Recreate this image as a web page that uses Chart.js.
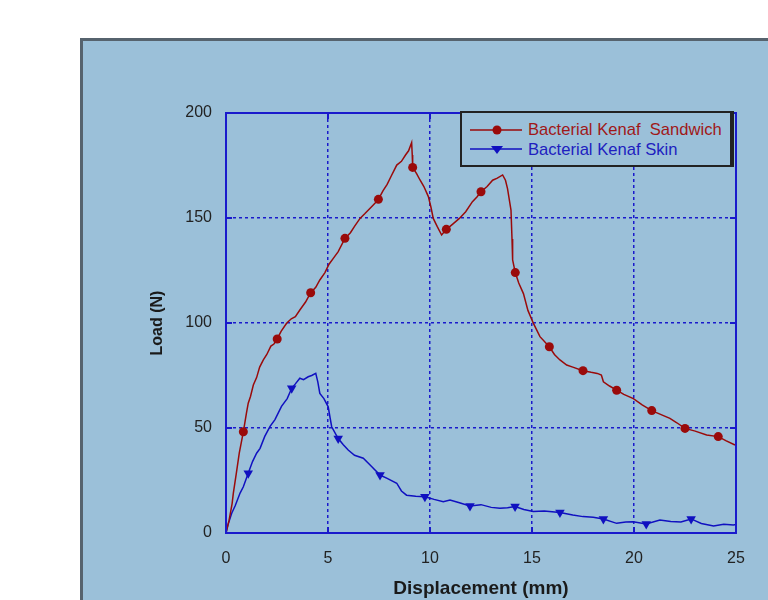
<!DOCTYPE html>
<html>
<head>
<meta charset="utf-8">
<script src="https://cdn.jsdelivr.net/npm/chart.js@4"></script>
<style>
	body { margin: 0; background: #fff; font-family: "Liberation Sans", Arial, sans-serif; }
	#wrap { position: relative; width: 768px; height: 600px; }
	#legend { position: absolute; left: 460px; top: 111px; width: 268px; height: 52px;
		border: 2px solid #222; border-right-width: 4px; background: #9bc0d9; font-size: 16.6px; }
	.row { position: absolute; left: 8px; height: 18px; display: flex; align-items: center; white-space: nowrap; }
	.row span { margin-left: 6px; }
</style>
</head>
<body>
<div id="wrap">
	<canvas id="grafico" width="768" height="600"></canvas>
	<div id="legend">
		<div class="row" style="top:8px;">
			<svg width="52" height="12"><line x1="0" y1="6" x2="52" y2="6" stroke="#9a0a0a" stroke-width="1.5"/><circle cx="27" cy="6" r="4.5" fill="#9a0a0a"/></svg>
			<span style="color:#a01818;">Bacterial Kenaf&nbsp; Sandwich</span>
		</div>
		<div class="row" style="top:28px;">
			<svg width="52" height="12"><line x1="0" y1="5" x2="52" y2="5" stroke="#1010c0" stroke-width="1.5"/><polygon points="21,2 33,2 27,10" fill="#1010c0"/></svg>
			<span style="color:#2020c0;">Bacterial Kenaf Skin</span>
		</div>
	</div>
</div>
<script>
// valores
var sandwichX = [0, 0.15, 0.3, 0.36, 0.5, 0.65, 0.85, 1.0, 1.09, 1.2, 1.34, 1.5, 1.65, 1.83, 2.0, 2.2, 2.35, 2.51, 2.7, 2.97,
	3.2, 3.4, 3.62, 3.9, 4.15, 4.4, 4.6, 4.85, 5.05, 5.26, 5.5, 5.83, 6.1, 6.3, 6.57, 6.8, 7.1, 7.3, 7.47, 7.7,
	7.9, 8.1, 8.37, 8.6, 8.8, 8.95, 9.1, 9.13, 9.15, 9.35, 9.51, 9.7, 9.92, 10.05, 10.16, 10.35, 10.57, 10.8, 11.1, 11.44,
	11.75, 12.08, 12.3, 12.5, 12.8, 13.07, 13.3, 13.56, 13.7, 13.8, 13.97, 14.02, 14.05, 14.18, 14.35, 14.58, 14.8, 15.07, 15.39, 15.85,
	16.1, 16.37, 16.7, 17.0, 17.5, 17.9, 18.2, 18.4, 18.5, 18.8, 19.15, 19.5, 19.97, 20.4, 20.87, 21.3, 21.76, 22.1, 22.5, 23.0,
	23.56, 24.13, 24.5, 24.95];
var sandwichY = [0, 6, 14, 19, 28, 38, 48.2, 57, 61.8, 65, 70.5, 74, 79, 82.4, 85, 89, 90, 92.4, 96, 99.9,
	102, 103, 106.2, 110, 114.4, 117, 120.5, 124, 128, 130.8, 134, 140.3, 143, 146, 149.8, 152, 155, 157, 158.9, 163,
	166, 170, 175.2, 177, 180, 182, 185.9, 180, 174.1, 171, 168.1, 165, 160.2, 155, 149.8, 146, 141.9, 144.6, 147, 149.8,
	153, 157.8, 160, 162.5, 165, 168, 169, 170.5, 168, 164, 153.8, 140, 130, 124, 119, 114, 106, 99.8, 93.5, 88.7,
	85, 82.4, 80, 79, 77.3, 76.5, 76, 75.2, 72, 70, 68, 66, 64, 61, 58.3, 56.5, 54.6, 52.5, 49.8, 48.5,
	46.7, 45.9, 44, 41.9];
var sandwichMarks = [0.85, 2.51, 4.15, 5.83, 7.47, 9.15, 10.8, 12.5, 14.18, 15.85, 17.5, 19.15, 20.87, 22.5, 24.13];

var skinX = [0, 0.1, 0.28, 0.45, 0.69, 0.85, 1.09, 1.3, 1.5, 1.67, 1.9, 2.16, 2.4, 2.72, 3.0, 3.22, 3.4, 3.62, 3.8, 4.03,
	4.2, 4.4, 4.5, 4.6, 4.8, 5.01, 5.1, 5.18, 5.5, 5.75, 5.99, 6.3, 6.73, 7.1, 7.55, 7.9, 8.37, 8.6, 8.85, 9.3,
	9.75, 10.2, 10.65, 10.98, 11.4, 11.96, 12.5, 13.0, 13.43, 13.8, 14.17, 14.6, 15.06, 15.6, 16.37, 17.0, 17.5, 18.0, 18.5, 19.15,
	19.6, 19.96, 20.6, 21.27, 21.8, 22.3, 22.8, 23.3, 23.9, 24.4, 24.87, 25];
var skinY = [0, 4, 9.4, 13, 19, 22, 28.4, 34, 38, 40.3, 46, 50.8, 54, 60.3, 64, 68.9, 71, 73.7, 73, 74.4,
	75, 76, 72, 66.5, 64, 60.1, 55, 50.6, 45, 42, 39.5, 37, 35.6, 32, 27.6, 26, 23.7, 20, 18, 17.5,
	17.3, 16, 14.9, 15.7, 14.5, 12.9, 13.5, 12.2, 11.8, 12, 12.6, 11.2, 10.2, 10.5, 9.8, 8.6, 7.8, 7.5, 6.7, 4.6,
	5.2, 5.4, 4.3, 6.2, 5.5, 5.2, 6.7, 4.5, 3.3, 4.2, 3.8, 4];
var skinMarks = [1.09, 3.22, 5.5, 7.55, 9.75, 11.96, 14.17, 16.37, 18.5, 20.6, 22.8];

var xTicks = [0, 5, 10, 15, 20, 25];
var yTicks = [0, 50, 100, 150, 200];

function puntos(xs, ys) {
	return xs.map(function (x, i) { return { x: x, y: ys[i] }; });
}

var azulGrid = '#1a1acc';

var fondo = {
	id: 'fondo',
	beforeDraw: function (chart) {
		var ctx = chart.ctx;
		ctx.save();
		ctx.fillStyle = '#ffffff';
		ctx.fillRect(0, 0, 768, 600);
		ctx.fillStyle = '#9bc0d9';
		ctx.fillRect(80, 38, 700, 570);
		ctx.strokeStyle = '#56636e';
		ctx.lineWidth = 3;
		ctx.strokeRect(81.5, 39.5, 700, 570);
		ctx.restore();
	},
	afterDatasetsDraw: function (chart) {
		var ctx = chart.ctx, a = chart.chartArea;
		var sx = chart.scales.x, sy = chart.scales.y;
		ctx.save();
		ctx.strokeStyle = azulGrid;
		ctx.lineWidth = 2;
		ctx.strokeRect(a.left, a.top, a.right - a.left, a.bottom - a.top);
		ctx.beginPath();
		xTicks.forEach(function (v) {
			var p = sx.getPixelForValue(v);
			ctx.moveTo(p, a.bottom); ctx.lineTo(p, a.bottom - 6);
			ctx.moveTo(p, a.top); ctx.lineTo(p, a.top + 6);
		});
		yTicks.forEach(function (v) {
			var p = sy.getPixelForValue(v);
			ctx.moveTo(a.left, p); ctx.lineTo(a.left + 6, p);
			ctx.moveTo(a.right, p); ctx.lineTo(a.right - 6, p);
		});
		ctx.stroke();
		ctx.restore();
	}
};

var contexto = document.getElementById('grafico').getContext('2d');

var grafico = new Chart(contexto, {
	type: 'line',
	data: {
		datasets: [{
			label: 'Bacterial Kenaf  Sandwich',
			data: puntos(sandwichX, sandwichY),
			borderColor: '#9a0a0a',
			backgroundColor: '#9a0a0a',
			borderWidth: 1.5,
			pointStyle: 'circle',
			pointRadius: function (c) { return sandwichMarks.indexOf(sandwichX[c.dataIndex]) >= 0 ? 4.5 : 0; },
			pointBorderWidth: 0,
			tension: 0,
			fill: false
		}, {
			label: 'Bacterial Kenaf Skin',
			data: puntos(skinX, skinY),
			borderColor: '#1010c0',
			backgroundColor: '#1010c0',
			borderWidth: 1.5,
			pointStyle: 'triangle',
			rotation: 180,
			pointRadius: function (c) { return skinMarks.indexOf(skinX[c.dataIndex]) >= 0 ? 5.5 : 0; },
			pointBorderWidth: 0,
			tension: 0,
			fill: false
		}]
	},
	options: {
		responsive: false,
		animation: false,
		layout: { padding: { left: 148, top: 113, right: 32, bottom: 0 } },
		plugins: { legend: { display: false }, tooltip: { enabled: false } },
		scales: {
			x: {
				type: 'linear', min: 0, max: 25,
				afterFit: function (s) { s.height = 67; },
				ticks: { stepSize: 5, padding: 16, color: '#222', font: { family: 'Liberation Sans', size: 16 } },
				grid: { color: azulGrid, lineWidth: 1.5, drawTicks: false },
				border: { color: azulGrid, width: 2, dash: [3, 3] },
				title: { display: true, text: 'Displacement (mm)', color: '#1a1a1a', padding: 0,
					font: { family: 'Liberation Sans', size: 19, weight: 'bold' } }
			},
			y: {
				min: 0, max: 200,
				afterFit: function (s) { s.width = 78; },
				ticks: { stepSize: 50, padding: 14, color: '#222', font: { family: 'Liberation Sans', size: 16 } },
				grid: { color: azulGrid, lineWidth: 1.5, drawTicks: false },
				border: { color: azulGrid, width: 2, dash: [3, 3] },
				title: { display: true, text: 'Load (N)', color: '#1a1a1a', padding: 0,
					font: { family: 'Liberation Sans', size: 16, weight: 'bold' } }
			}
		}
	},
	plugins: [fondo]
});
</script>
</body>
</html>
